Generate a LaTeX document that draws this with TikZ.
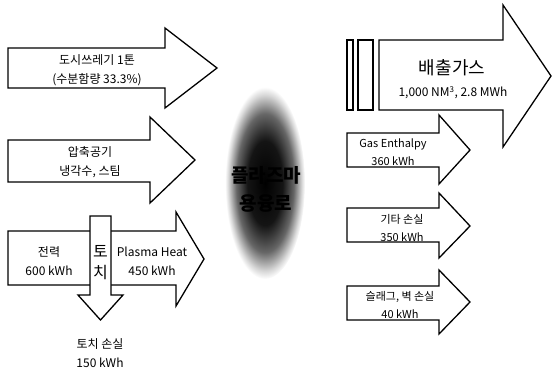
\documentclass[tikz,border=0pt]{standalone}
\usepackage{fontspec}
\setmainfont{Noto Sans CJK KR}
\usepackage{tikz}
\usetikzlibrary{positioning}

\pgfdeclareradialshading{blob}{\pgfpoint{0bp}{0bp}}{color(0bp)=(black); color(11bp)=(black!92); color(18bp)=(black!60); color(23bp)=(black!15); color(25bp)=(white); color(50bp)=(white)}

\begin{document}
\begin{tikzpicture}[
    x=1pt, y=-1pt,
    blockarrow/.style={draw=black, fill=white, line width=1.3pt, line join=miter},
    txt/.style={font=\fontsize{12}{19}\selectfont, align=center, inner sep=0pt},
    small/.style={font=\fontsize{11}{18}\selectfont, align=center, inner sep=0pt},
    big/.style={font=\fontsize{18}{22}\selectfont, inner sep=0pt},
]
\useasboundingbox (0,0) rectangle (553,370);

% --- inputs ---
\draw[blockarrow] (8,48) -- (165,48) -- (165,28) -- (217,68) -- (165,108) -- (165,88) -- (8,88) -- cycle;
\node[txt] (waste) at (97,70) {도시쓰레기 1톤\\(수분함량 33.3\%)};

\draw[blockarrow] (8,140) -- (150,140) -- (150,117) -- (195,160) -- (150,203) -- (150,182) -- (8,182) -- cycle;
\node[txt] (air) at (90,162) {압축공기\\냉각수, 스팀};

% power through torch
\draw[blockarrow] (8,231) -- (176,231) -- (176,212) -- (204,259) -- (176,306) -- (176,285) -- (8,285) -- cycle;
\draw[blockarrow] (90,216) -- (111,216) -- (111,295) -- (123,295) -- (100.5,320) -- (78,295) -- (90,295) -- cycle;
\node[txt] (power) at (49,261) {전력\\600 kWh};
\node[txt] (heat) at (152,261) {Plasma Heat\\450 kWh};
\node[font=\fontsize{16}{21}\selectfont, align=center, inner sep=0pt] (torch) at (100.5,263) {토\\치};
\node[txt] (torchloss) at (100,353) {토치 손실\\150 kWh};

% --- furnace ---
\shade[shading=blob] (265,183) ellipse [x radius=40, y radius=96];
\node[font=\fontsize{19}{28}\selectfont\bfseries, align=center, inner sep=0pt] (furnace) at (266,189) {플라즈마\\용융로};

% --- outputs ---
\draw[blockarrow] (347,40) rectangle (353,110);
\draw[blockarrow] (358,40) rectangle (373,110);
\draw[blockarrow] (379,40) -- (503,40) -- (503,5) -- (551,76) -- (503,147) -- (503,110) -- (379,110) -- cycle;
\node[big] (exhaust) at (452,68) {배출가스};
\node[txt] (exhaustval) at (453,93) {1,000 NM\textsuperscript{3}, 2.8 MWh};

\draw[blockarrow] (347,133) -- (439,133) -- (439,115) -- (470,150) -- (439,184) -- (439,167) -- (347,167) -- cycle;
\node[small] (enthalpy) at (393,152) {Gas Enthalpy\\360 kWh};

\draw[blockarrow] (347,208) -- (439,208) -- (439,193) -- (470,226) -- (439,258) -- (439,242) -- (347,242) -- cycle;
\node[small] (otherloss) at (402,228) {기타 손실\\350 kWh};

\draw[blockarrow] (347,286) -- (439,286) -- (439,270) -- (470,302) -- (439,334) -- (439,320) -- (347,320) -- cycle;
\node[small] (slagloss) at (400,305) {슬래그, 벽 손실\\40 kWh};

\end{tikzpicture}
\end{document}
